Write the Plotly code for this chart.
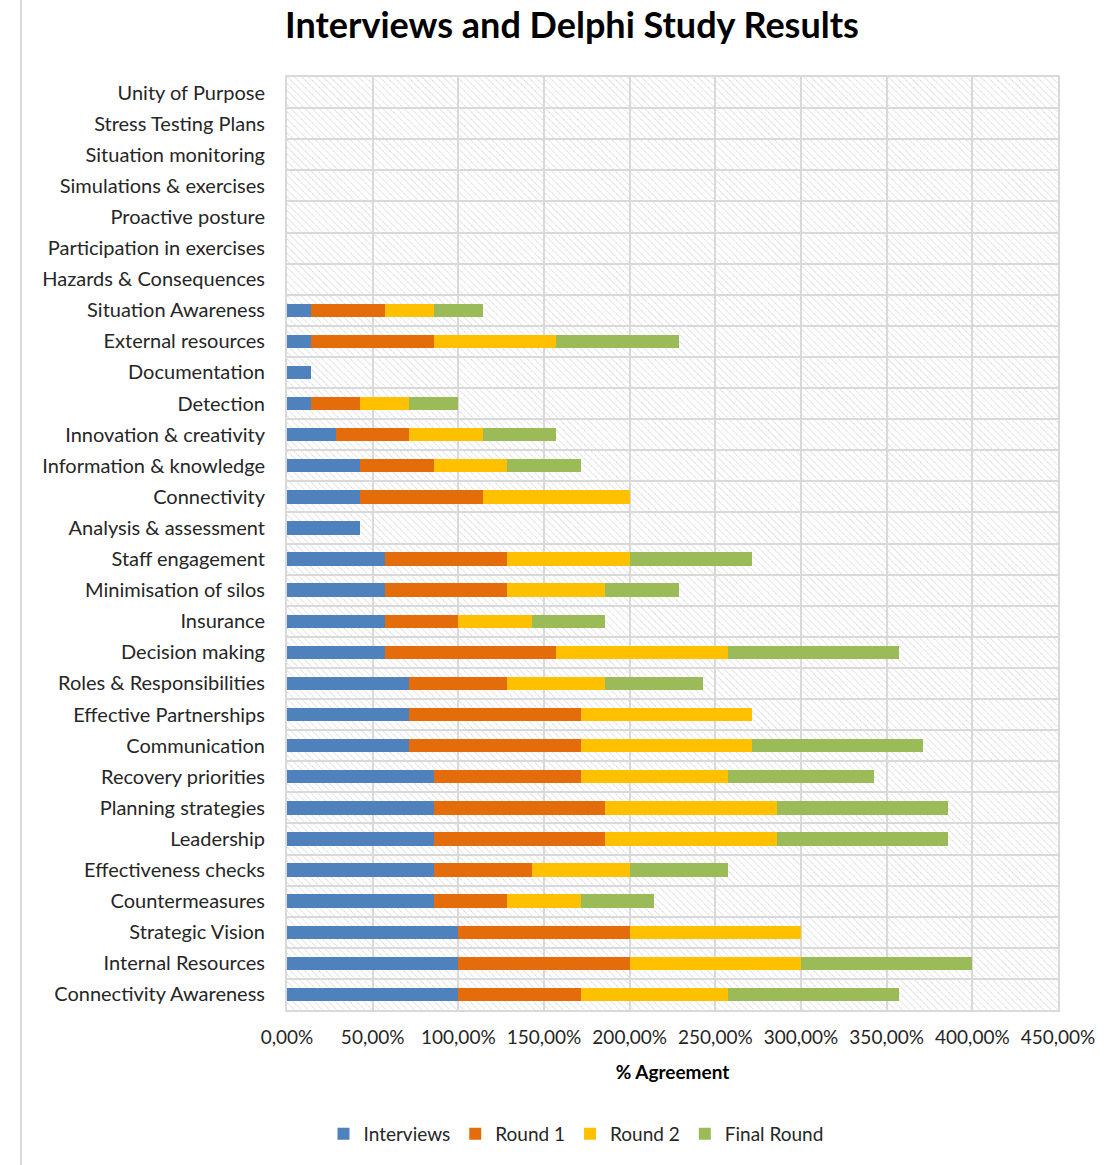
import base64
import plotly.graph_objects as go

# Categories listed top to bottom as displayed
categories = [
    "Unity of Purpose", "Stress Testing Plans", "Situation monitoring",
    "Simulations & exercises", "Proactive posture", "Participation in exercises",
    "Hazards & Consequences", "Situation Awareness", "External resources",
    "Documentation", "Detection", "Innovation & creativity",
    "Information & knowledge", "Connectivity", "Analysis & assessment",
    "Staff engagement", "Minimisation of silos", "Insurance", "Decision making",
    "Roles & Responsibilities", "Effective Partnerships", "Communication",
    "Recovery priorities", "Planning strategies", "Leadership",
    "Effectiveness checks", "Countermeasures", "Strategic Vision",
    "Internal Resources", "Connectivity Awareness",
]

interviews = [0, 0, 0, 0, 0, 0, 0, 14.29, 14.29, 14.29, 14.29, 28.57, 42.86, 42.86,
              42.86, 57.14, 57.14, 57.14, 57.14, 71.43, 71.43, 71.43, 85.71, 85.71,
              85.71, 85.71, 85.71, 100, 100, 100]
round1 = [0, 0, 0, 0, 0, 0, 0, 42.86, 71.43, 0, 28.57, 42.86, 42.86, 71.43,
          0, 71.43, 71.43, 42.86, 100, 57.14, 100, 100, 85.71, 100,
          100, 57.14, 42.86, 100, 100, 71.43]
round2 = [0, 0, 0, 0, 0, 0, 0, 28.57, 71.43, 0, 28.57, 42.86, 42.86, 85.71,
          0, 71.43, 57.14, 42.86, 100, 57.14, 100, 100, 85.71, 100,
          100, 57.14, 42.86, 100, 100, 85.71]
final_round = [0, 0, 0, 0, 0, 0, 0, 28.57, 71.43, 0, 28.57, 42.86, 42.86, 0,
               0, 71.43, 42.86, 42.86, 100, 57.14, 0, 100, 85.71, 100,
               100, 57.14, 42.86, 0, 100, 100]

series_names = ["Interviews", "Round 1", "Round 2", "Final Round"]
series_values = [interviews, round1, round2, final_round]
series_colors = ["#4F81BD", "#E46C0A", "#FFC000", "#9BBB59"]

tick_vals = [0, 50, 100, 150, 200, 250, 300, 350, 400, 450]
tick_text = ["0,00%", "50,00%", "100,00%", "150,00%", "200,00%", "250,00%",
             "300,00%", "350,00%", "400,00%", "450,00%"]

W, H = 1107, 1165
L, R, T, B = 287, 49, 77, 155
PW, PH = W - L - R, H - T - B

FONT = "Lato"
TXT = "#262626"

fig = go.Figure()
for name, vals, col in zip(series_names, series_values, series_colors):
    fig.add_trace(go.Bar(
        y=categories, x=vals, name=name, orientation="h",
        marker=dict(color=col, line=dict(width=0)),
        hovertemplate="%{y}: %{x:.2f}%<extra>" + name + "</extra>",
    ))

# hatched plot-area background
svg = (
    f'<svg xmlns="http://www.w3.org/2000/svg" width="{PW}" height="{PH}">'
    '<defs><pattern id="h" width="5" height="5" patternUnits="userSpaceOnUse" '
    'patternTransform="rotate(-45)">'
    '<line x1="0" y1="0" x2="0" y2="5" stroke="#CCCCCC" stroke-width="1.6" '
    'stroke-dasharray="1.4 0.8"/></pattern></defs>'
    f'<rect width="{PW}" height="{PH}" fill="white"/>'
    f'<rect width="{PW}" height="{PH}" fill="url(#h)"/></svg>'
)
src = "data:image/svg+xml;base64," + base64.b64encode(svg.encode()).decode()
fig.add_layout_image(dict(
    source=src, xref="x domain", yref="y domain", x=0, y=1,
    sizex=1, sizey=1, xanchor="left", yanchor="top",
    sizing="stretch", layer="below",
))

# left frame line of the original document
fig.add_shape(type="line", xref="paper", yref="paper",
              x0=(21 - L) / PW, x1=(21 - L) / PW,
              y0=-B / PH - 0.02, y1=(PH + T) / PH + 0.02,
              line=dict(color="#D9D9D9", width=2))

fig.update_layout(
    width=W, height=H,
    margin=dict(l=L, r=R, t=T, b=B),
    paper_bgcolor="white", plot_bgcolor="white",
    barmode="stack", bargap=0.57,
    font=dict(family=FONT, color=TXT, size=19),
    title=dict(text="<b>Interviews and Delphi Study Results</b>",
               x=572 / W, xref="container", xanchor="center",
               y=1 - 25 / H, yref="container", yanchor="middle",
               font=dict(family=FONT, size=36, color="#000000")),
    legend=dict(orientation="h", xref="container", yref="container",
                x=576 / W, xanchor="center", y=1 - 1134 / H, yanchor="middle",
                font=dict(family=FONT, size=19, color=TXT),
                itemwidth=30, traceorder="normal", bgcolor="rgba(0,0,0,0)"),
    xaxis=dict(range=[0, 450], tickvals=tick_vals, ticktext=tick_text,
               showgrid=True, gridcolor="#D9D9D9", gridwidth=2,
               showline=True, linecolor="#D9D9D9", linewidth=2, mirror=True,
               zeroline=False, ticks="", ticklabelstandoff=9,
               tickfont=dict(family=FONT, size=19, color=TXT),
               title=dict(text="<b>% Agreement</b>", standoff=19,
                          font=dict(family=FONT, size=19, color="#000000"))),
    yaxis=dict(categoryorder="array", categoryarray=categories,
               autorange="reversed", tickson="boundaries",
               showgrid=True, gridcolor="#D9D9D9", gridwidth=2,
               showline=True, linecolor="#D9D9D9", linewidth=2, mirror=True,
               ticks="", ticklabelstandoff=16,
               tickfont=dict(family=FONT, size=20, color=TXT)),
)

fig.write_html("out.html")
